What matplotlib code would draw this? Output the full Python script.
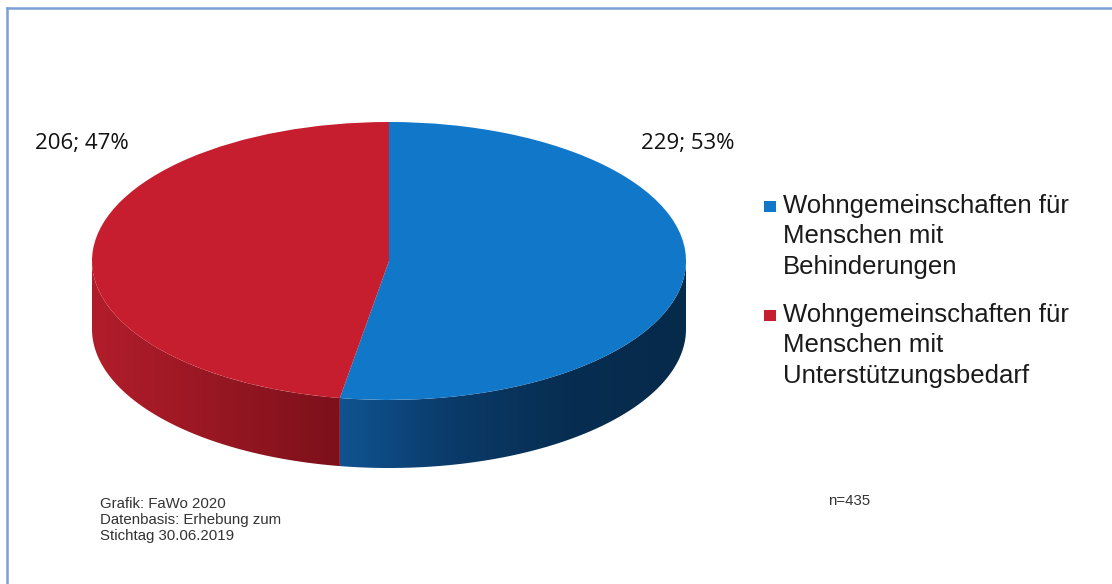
import numpy as np
import matplotlib.pyplot as plt
from matplotlib.colors import LinearSegmentedColormap
from matplotlib.patches import Polygon, Rectangle
from matplotlib.lines import Line2D

# Daten
categories = ['Wohngemeinschaften für\nMenschen mit\nBehinderungen',
              'Wohngemeinschaften für\nMenschen mit\nUnterstützungsbedarf']
values = [229, 206]
top_colors = ['#1177c9', '#c61e2e']
side_colors = [['#105391', '#0a3a68', '#072d51', '#062a4a'],
               ['#b21d2b', '#a01925', '#8e1520', '#7d101b']]
note_text = 'Grafik: FaWo 2020\nDatenbasis: Erhebung zum\nStichtag 30.06.2019'
n_text = 'n=435'

W, H = 1112, 584
fig = plt.figure(figsize=(W / 100, H / 100), dpi=100)

# Hintergrund-Achse in Pixelkoordinaten
bg = fig.add_axes([0, 0, 1, 1])
bg.set_xlim(0, W)
bg.set_ylim(H, 0)
bg.axis('off')

# Rahmen (nur oben und links sichtbar)
frame_col = '#7ba0d6'
bg.add_line(Line2D([7, 7], [8, H + 5], color=frame_col, lw=1.8))
bg.add_line(Line2D([7, W + 5], [8, 8], color=frame_col, lw=1.8))

# Kreisdiagramm (3D-Optik)
depth = 0.49
px_left, px_right, px_top, px_bottom = 92, 686, 122, 468
ax = fig.add_axes([px_left / W, (H - px_bottom) / H,
                   (px_right - px_left) / W, (px_bottom - px_top) / H])

total = sum(values)
start = 90.0
for i, v in enumerate(values):
    span = 360.0 * v / total
    t = np.radians(np.linspace(start - span, start, 600))
    front = t[np.sin(t) <= 0]
    if len(front) > 1:
        xs = np.cos(front)
        ys = np.sin(front)
        pts = np.column_stack([np.concatenate([xs, xs[::-1]]),
                               np.concatenate([ys, (ys - depth)[::-1]])])
        poly = Polygon(pts, closed=True, facecolor='none', edgecolor='none')
        ax.add_patch(poly)
        cmap = LinearSegmentedColormap.from_list('side%d' % i, side_colors[i])
        grad = np.linspace(0, 1, 256).reshape(1, -1)
        if i == 1:
            extent = [-1, xs.max(), -1 - depth, 0]
        else:
            extent = [xs.min(), 1, -1 - depth, 0]
        im = ax.imshow(grad, extent=extent, cmap=cmap, aspect='auto',
                       interpolation='bilinear', zorder=1)
        im.set_clip_path(poly)
    start -= span

ax.pie(values, colors=top_colors, startangle=90, counterclock=False,
       radius=1, wedgeprops=dict(linewidth=0, antialiased=True, zorder=2))
ax.set_aspect('auto')
ax.set_xlim(-1, 1)
ax.set_ylim(-1 - depth, 1)
ax.axis('off')

# Datenbeschriftungen
labels = ['%d; %d%%' % (v, round(100 * v / total)) for v in values]
bg.text(688, 144, labels[0], fontsize=16, family='Open Sans',
        color='#111111', ha='center', va='center')
bg.text(82, 143, labels[1], fontsize=16, family='Open Sans',
        color='#111111', ha='center', va='center')

# Legende
leg_y = [213, 322]
line_step = 30.5
for i, cat in enumerate(categories):
    bg.add_patch(Rectangle((764, leg_y[i] - 12), 12, 11, facecolor=top_colors[i],
                           edgecolor='none'))
    n_lines = cat.count('\n')
    bg.text(783, leg_y[i] + n_lines * line_step, cat, fontsize=18.5,
            family='Liberation Sans', color='#1a1a1a', ha='left',
            va='baseline', linespacing=1.35)

# Anmerkungen
bg.text(100, 497, note_text, fontsize=10.8, family='Liberation Sans',
        color='#333333', ha='left', va='top', linespacing=1.2)
bg.text(828, 501, n_text, fontsize=10.8, family='Liberation Sans',
        color='#333333', ha='left', va='center')

fig.savefig('out.png', dpi=100)
